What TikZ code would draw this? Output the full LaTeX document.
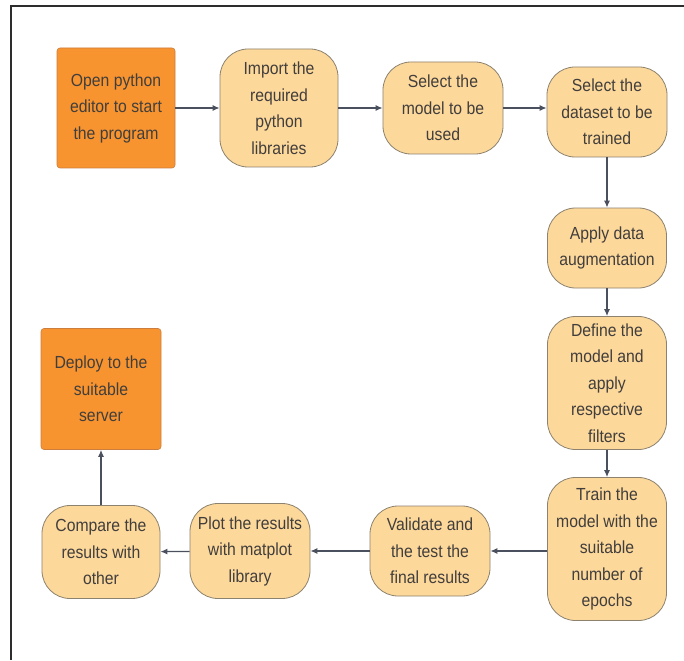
\documentclass[tikz,border=0pt]{standalone}
\usepackage{fontspec}
\setmainfont[FakeStretch=0.9]{Liberation Sans}
\usetikzlibrary{arrows.meta}
\definecolor{orng}{RGB}{247,148,48}
\definecolor{orngdraw}{RGB}{205,125,60}
\definecolor{beige}{RGB}{253,216,155}
\definecolor{beigedraw}{RGB}{140,130,110}
\definecolor{txt}{RGB}{65,62,60}
\definecolor{arr}{RGB}{75,80,95}
\definecolor{framec}{RGB}{45,45,45}
\begin{document}
\begin{tikzpicture}[x=1pt,y=-1pt,
  every node/.style={font=\fontsize{17.5}{26.5}\selectfont, text=txt, align=center, inner sep=0pt},
  startbox/.style={fill=orng, draw=orngdraw, line width=0.6pt, rounded corners=3pt},
  stepnode/.style={fill=beige, draw=beigedraw, line width=0.8pt, rounded corners=28pt},
  flow/.style={draw=arr, line width=1.2pt, -{Latex[length=7pt,width=6pt]}}]
\useasboundingbox (0,0) rectangle (684,660);
\fill[white] (0,0) rectangle (684,660);
\draw[framec, line width=2pt] (11,660) -- (11,6) -- (684,6);

\node[startbox, minimum width=118pt, minimum height=120pt] (n1) at (116,108) {Open python\\editor to start\\the program};
\node[stepnode, minimum width=118pt, minimum height=118pt] (n2) at (279,108) {Import the\\required\\python\\libraries};
\node[stepnode, minimum width=120pt, minimum height=92pt] (n3) at (443,108) {Select the\\model to be\\used};
\node[stepnode, minimum width=120pt, minimum height=90pt] (n4) at (607,112) {Select the\\dataset to be\\trained};
\node[stepnode, minimum width=119pt, minimum height=80pt] (n5) at (607,248) {Apply data\\augmentation};
\node[stepnode, minimum width=119pt, minimum height=133pt] (n6) at (607,383) {Define the\\model and\\apply\\respective\\filters};
\node[stepnode, minimum width=119pt, minimum height=143pt] (n7) at (607,549) {Train the\\model with the\\suitable\\number of\\epochs};
\node[stepnode, minimum width=120pt, minimum height=90pt] (n8) at (430,551) {Validate and\\the test the\\final results};
\node[stepnode, minimum width=120pt, minimum height=95pt] (n9) at (250,551) {Plot the results\\with matplot\\library};
\node[stepnode, minimum width=118pt, minimum height=93pt] (n10) at (101,552) {Compare the\\results with\\other};
\node[startbox, minimum width=120pt, minimum height=121pt] (n11) at (101,389) {Deploy to the\\suitable\\server};

\draw[flow] (n1) -- (n2);
\draw[flow] (n2) -- (n3);
\draw[flow] (n3.east) -- (n3.east -| n4.west);
\draw[flow] (n4) -- (n5);
\draw[flow] (n5) -- (n6);
\draw[flow] (n6) -- (n7);
\draw[flow] (n7.west |- n8) -- (n8);
\draw[flow] (n8) -- (n9);
\draw[flow] (n9) -- (n10);
\draw[flow] (n10) -- (n11);
\end{tikzpicture}
\end{document}
